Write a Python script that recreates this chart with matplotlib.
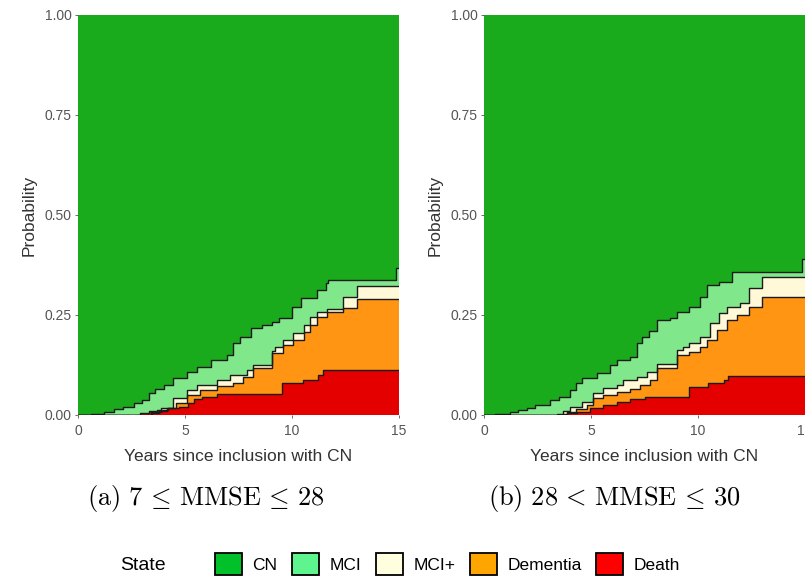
import matplotlib.pyplot as plt
from matplotlib.patches import Patch

plt.rcParams['font.family'] = ['Liberation Sans', 'DejaVu Sans']
plt.rcParams['mathtext.fontset'] = 'cm'

states = ["CN", "MCI", "MCI+", "Dementia", "Death"]
fill_cols = ["#1aab1c", "#80e88a", "#fff9d8", "#ff9512", "#e50000"]
legend_cols = ["#00c12a", "#5ef58e", "#ffffe0", "#ffa500", "#ff0000"]

# cumulative upper edge of each state (stacked from the bottom: Death, Dementia, MCI+, MCI)
# panel (a): 7 <= MMSE <= 28
a_death_t = [0, 2.9, 3.3, 3.7, 4.2, 4.7, 5.15, 5.4, 5.8, 6.5, 9.55, 10.5, 11.2, 11.45, 15]
a_death = [0, 0.004, 0.009, 0.0125, 0.017, 0.021, 0.03, 0.04, 0.046, 0.052, 0.08, 0.088, 0.10, 0.112, 0.112]
a_dem_t = [0, 3.45, 3.8, 4.15, 4.6, 5.1, 5.7, 6.5, 7.25, 7.7, 8.2, 9.05, 9.6, 10.07, 10.54, 10.84, 11.16, 11.62, 12.4, 13.02, 15]
a_dem = [0, 0.005, 0.01, 0.017, 0.029, 0.05, 0.0625, 0.072, 0.08, 0.095, 0.117, 0.154, 0.175, 0.1875, 0.208, 0.225, 0.246, 0.258, 0.267, 0.289, 0.289]
a_mcip_t = [0, 3.4, 3.9, 4.45, 5.1, 5.55, 6.5, 7.1, 7.9, 8.2, 9.05, 9.2, 9.6, 10.07, 10.54, 10.84, 11.16, 11.62, 12.4, 13.02, 15]
a_mcip = [0, 0.008, 0.017, 0.042, 0.0625, 0.075, 0.0875, 0.1, 0.1125, 0.125, 0.16, 0.171, 0.1875, 0.204, 0.225, 0.246, 0.258, 0.265, 0.296, 0.3225, 0.3225]
a_mci_t = [0, 0.6, 1.2, 1.7, 2.1, 2.6, 3.0, 3.3, 3.6, 4.0, 4.45, 5.1, 5.55, 6.2, 6.95, 7.25, 7.57, 8.1, 8.6, 9.05, 9.4, 10.0, 10.4, 11.15, 11.6, 11.7, 14.85, 15]
a_mci = [0, 0.003, 0.008, 0.014, 0.021, 0.03, 0.0375, 0.054, 0.065, 0.075, 0.092, 0.108, 0.121, 0.1375, 0.15, 0.18, 0.194, 0.217, 0.225, 0.233, 0.242, 0.271, 0.292, 0.3125, 0.329, 0.3375, 0.367, 0.367]

# panel (b): 28 < MMSE <= 30
b_death_t = [0, 3.4, 3.9, 4.35, 4.95, 5.55, 6.2, 6.8, 7.5, 9.6, 10.45, 11.2, 11.4, 15]
b_death = [0, 0.003, 0.005, 0.008, 0.017, 0.025, 0.033, 0.04, 0.044, 0.071, 0.079, 0.0875, 0.098, 0.098]
b_dem_t = [0, 3.9, 4.3, 4.8, 5.1, 5.55, 6.2, 6.8, 7.3, 7.75, 8.1, 9.0, 9.6, 10.1, 10.4, 10.9, 11.35, 11.8, 12.4, 13.0, 15]
b_dem = [0, 0.008, 0.015, 0.025, 0.042, 0.05, 0.058, 0.065, 0.075, 0.0875, 0.117, 0.15, 0.158, 0.171, 0.1875, 0.2125, 0.2375, 0.25, 0.27, 0.296, 0.296]
b_mcip_t = [0, 3.7, 4.0, 4.6, 5.1, 5.55, 6.2, 6.5, 7.15, 7.6, 8.1, 9.0, 9.3, 9.6, 10.1, 10.55, 11.0, 11.35, 11.95, 12.4, 13.0, 15]
b_mcip = [0, 0.01, 0.021, 0.033, 0.054, 0.067, 0.075, 0.0875, 0.096, 0.108, 0.128, 0.1625, 0.171, 0.179, 0.196, 0.229, 0.254, 0.271, 0.279, 0.317, 0.346, 0.346]
b_mci_t = [0, 0.5, 1.2, 1.6, 2.0, 2.4, 3.1, 3.5, 4.0, 4.3, 4.6, 5.3, 5.9, 6.2, 6.8, 7.15, 7.4, 7.7, 8.1, 8.7, 9.0, 9.6, 10.1, 10.4, 11.0, 11.6, 14.85, 15]
b_mci = [0, 0.003, 0.008, 0.012, 0.017, 0.025, 0.0375, 0.046, 0.0625, 0.08, 0.092, 0.105, 0.125, 0.1375, 0.146, 0.18, 0.196, 0.21, 0.2375, 0.2425, 0.258, 0.271, 0.296, 0.325, 0.333, 0.357, 0.39, 0.39]

captions = [r"$\mathrm{(a)}\ 7\,\leq\,\mathrm{MMSE}\,\leq\,28$",
            r"$\mathrm{(b)}\ 28\,<\,\mathrm{MMSE}\,\leq\,30$"]
caption_x = [206, 614]

fig = plt.figure(figsize=(8.05, 5.8), dpi=100)
ax_a = fig.add_axes([78 / 805, 165 / 580, 321 / 805, 400 / 580])
ax_b = fig.add_axes([484 / 805, 165 / 580, 321 / 805, 400 / 580])

panels = [
    (ax_a, [(a_mci_t, a_mci), (a_mcip_t, a_mcip), (a_dem_t, a_dem), (a_death_t, a_death)]),
    (ax_b, [(b_mci_t, b_mci), (b_mcip_t, b_mcip), (b_dem_t, b_dem), (b_death_t, b_death)]),
]

for i, (ax, layers) in enumerate(panels):
    ax.axhspan(0, 1, color=fill_cols[0], lw=0)
    for (t, v), col in zip(layers, fill_cols[1:]):
        ax.fill_between(t, 0, v, step="post", facecolor=col, lw=0)
    for t, v in layers:
        ax.step(t, v, where="post", color="#1a1a1a", lw=1.0)
    ax.set_xlim(0, 15)
    ax.set_ylim(0, 1)
    ax.set_xticks([0, 5, 10, 15])
    ax.set_yticks([0, 0.25, 0.5, 0.75, 1.0])
    ax.set_yticklabels(["0.00", "0.25", "0.50", "0.75", "1.00"])
    ax.tick_params(colors="#555555", labelsize=10, length=2.5, width=0.6, pad=2)
    ax.tick_params(axis="x", pad=4)
    for s in ax.spines.values():
        s.set_visible(False)
    ax.set_xlabel("Years since inclusion with CN", fontsize=12.5, color="#333333", labelpad=8)
    ax.set_ylabel("Probability", fontsize=12.5, color="#333333", labelpad=6)
    fig.text(caption_x[i] / 805, 81 / 580, captions[i], fontsize=19, ha="center", va="center")

handles = [Patch(facecolor=c, edgecolor="black", lw=1.3) for c in legend_cols]
fig.text(120 / 805, 15 / 580, "State", fontsize=14, va="center")
fig.legend(handles, states, ncol=5, loc="center left", bbox_to_anchor=(208 / 805, 16 / 580),
           frameon=False, fontsize=12.5, handlelength=1.55, handleheight=1.55,
           handletextpad=0.6, columnspacing=0.85, borderaxespad=0)

fig.savefig("out.png", dpi=100)
